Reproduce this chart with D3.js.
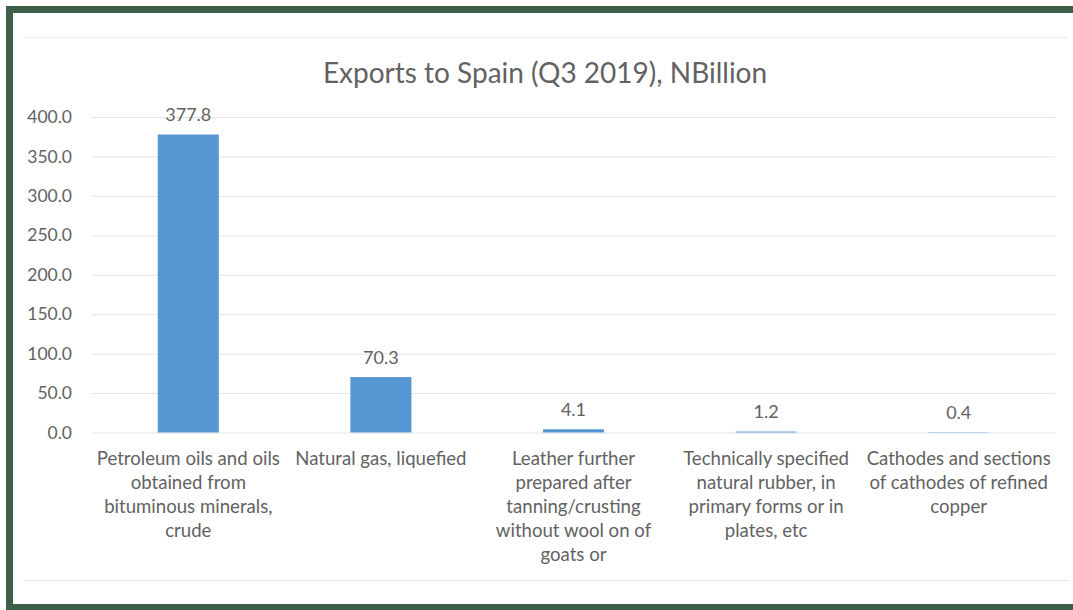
<!DOCTYPE html>
<html>
<head>
<meta charset="utf-8">
<script src="https://cdn.jsdelivr.net/npm/d3@7"></script>
<style>
  html, body { margin: 0; padding: 0; background: #ffffff; }
  svg { display: block; }
  text { font-family: Lato, "Open Sans", sans-serif; fill: #626262; }
</style>
</head>
<body>
<script>
// Top export products to Spain, Q3 2019 (billion naira)
const categories = [
  "Petroleum oils and oils obtained from bituminous minerals, crude",
  "Natural gas, liquefied",
  "Leather further prepared after tanning/crusting without wool on of goats or",
  "Technically specified natural rubber, in primary forms or in plates, etc",
  "Cathodes and sections of cathodes of refined copper"
];
const values = [377.8, 70.3, 4.1, 1.2, 0.4];
// Wrapped axis labels, one array of lines per category
const categoryLines = [
  ["Petroleum oils and oils", "obtained from", "bituminous minerals,", "crude"],
  ["Natural gas, liquefied"],
  ["Leather further", "prepared after", "tanning/crusting", "without wool on of", "goats or"],
  ["Technically specified", "natural rubber, in", "primary forms or in", "plates, etc"],
  ["Cathodes and sections", "of cathodes of refined", "copper"]
];
const yTicks = [0, 50, 100, 150, 200, 250, 300, 350, 400];
const titleText = "Exports to Spain (Q3 2019), NBillion";

const W = 1073, H = 610;
const svg = d3.select("body").append("svg").attr("width", W).attr("height", H);

// Green frame (top, left and bottom edges)
svg.append("rect").attr("x", 6).attr("y", 6).attr("width", W - 6).attr("height", H - 6).attr("fill", "#3d5e47");
svg.append("rect").attr("x", 13).attr("y", 13).attr("width", W - 13).attr("height", H - 19).attr("fill", "#ffffff");

// Faint chart-area edges
svg.append("line").attr("x1", 23).attr("x2", 1068).attr("y1", 37.5).attr("y2", 37.5)
  .attr("stroke", "#f0f0f0").attr("stroke-width", 1.5);
svg.append("line").attr("x1", 23).attr("x2", 1068).attr("y1", 580.5).attr("y2", 580.5)
  .attr("stroke", "#e2e2e2").attr("stroke-width", 1);

const plot = { left: 92, right: 1055, top: 117, bottom: 432.5 };

const x = d3.scaleBand().domain(categories).range([plot.left, plot.right])
  .paddingInner(0.683).paddingOuter(0.3415);
const y = d3.scaleLinear().domain([0, 400]).range([plot.bottom, plot.top]);

// Title
svg.append("text").attr("x", 545).attr("y", 83).attr("text-anchor", "middle")
  .style("font-size", "28px").text(titleText);

// Value axis with gridlines
const yAxis = d3.axisLeft(y).tickValues(yTicks).tickFormat(d3.format(".1f"))
  .tickSize(-(plot.right - plot.left)).tickPadding(20);
const gy = svg.append("g").attr("transform", `translate(${plot.left},0)`).call(yAxis);
gy.select(".domain").remove();
gy.selectAll(".tick line").attr("stroke", "#e3e3e3").attr("stroke-width", 1);
gy.selectAll(".tick text").style("font-size", "17.5px").style("font-family", "Lato, sans-serif").attr("fill", "#6a6a6a");

// Bars
svg.append("g").selectAll("rect").data(values).join("rect")
  .attr("x", (d, i) => x(categories[i]))
  .attr("width", x.bandwidth())
  .attr("y", d => y(d))
  .attr("height", d => y(0) - y(d))
  .attr("fill", "#5697d3");

// Value labels
svg.append("g").selectAll("text").data(values).join("text")
  .attr("x", (d, i) => x(categories[i]) + x.bandwidth() / 2)
  .attr("y", d => y(d) - 13.5)
  .attr("text-anchor", "middle")
  .style("font-size", "18px")
  .text(d => d3.format(".1f")(d));

// Category labels
const catG = svg.append("g").selectAll("text").data(categories).join("text")
  .attr("x", d => x(d) + x.bandwidth() / 2)
  .attr("y", 465)
  .attr("text-anchor", "middle")
  .style("font-size", "18.6px");
catG.each(function (d, i) {
  d3.select(this).selectAll("tspan").data(categoryLines[i]).join("tspan")
    .attr("x", x(d) + x.bandwidth() / 2)
    .attr("dy", (s, j) => j === 0 ? 0 : 24)
    .text(s => s);
});
</script>
</body>
</html>
